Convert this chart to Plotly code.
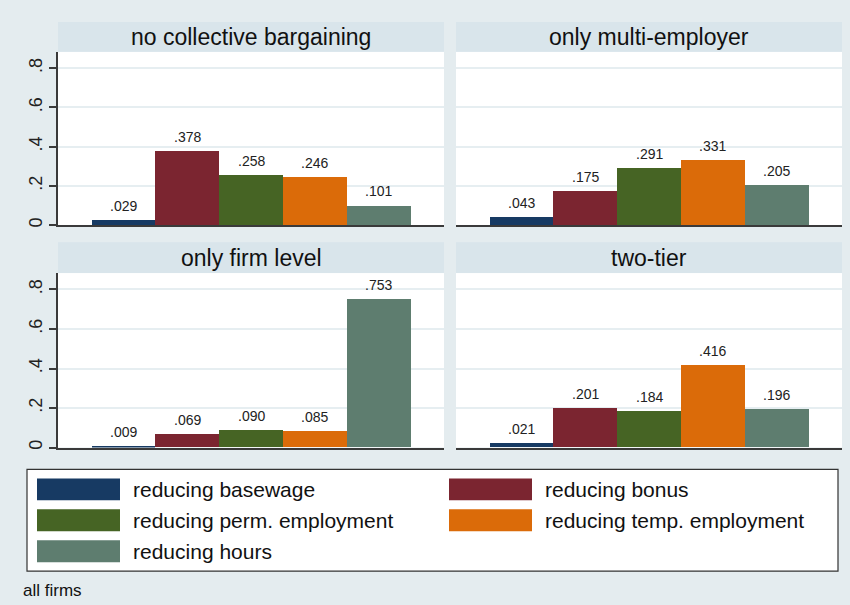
import plotly.graph_objects as go

panels = ["no collective bargaining", "only multi-employer", "only firm level", "two-tier"]
series = ["reducing basewage", "reducing bonus", "reducing perm. employment",
          "reducing temp. employment", "reducing hours"]
colors = ["#173A63", "#7B2530", "#466424", "#DB6B09", "#5E7D6F"]

v_nocb = [0.029, 0.378, 0.258, 0.246, 0.101]
v_multi = [0.043, 0.175, 0.291, 0.331, 0.205]
v_firm = [0.009, 0.069, 0.090, 0.085, 0.753]
v_two = [0.021, 0.201, 0.184, 0.416, 0.196]
values = [v_nocb, v_multi, v_firm, v_two]

ytick_vals = [0, 0.2, 0.4, 0.6, 0.8]
ytick_text = ["0", ".2", ".4", ".6", ".8"]
note = "all firms"

W, H = 850, 605
def px(x): return x / W
def py(y): return 1 - y / H

BG = "#E4ECEF"
STRIP = "#D9E5EB"
GRID = "#E6EEF1"
AX = "#3A3A3A"
FONT = "Liberation Sans, Arial, sans-serif"

cols = [(58, 444), (456, 842)]
rows = [(52, 226, 22), (274, 449, 243)]

fig = go.Figure()
layout = dict(width=W, height=H, margin=dict(l=0, r=0, t=0, b=0),
              paper_bgcolor=BG, plot_bgcolor="white", showlegend=False,
              barmode="overlay", bargap=0, font=dict(family=FONT, color="#111"))
shapes = []
annotations = []

for p, name in enumerate(panels):
    r, c = divmod(p, 2)
    n = p + 1
    xa = "x" if n == 1 else f"x{n}"
    ya = "y" if n == 1 else f"y{n}"
    xl, xr = cols[c]
    yt, yb, st = rows[r]
    layout["xaxis" if n == 1 else f"xaxis{n}"] = dict(
        domain=[px(xl), px(xr)], range=[-1.025, 5.025], anchor=ya,
        showgrid=False, zeroline=False, showticklabels=False, ticks="",
        showline=True, linecolor=AX, linewidth=1.5, fixedrange=True)
    layout["yaxis" if n == 1 else f"yaxis{n}"] = dict(
        domain=[py(yb), py(yt)], range=[0, 0.883], anchor=xa,
        tickvals=ytick_vals, ticktext=ytick_text, tickangle=-90,
        showticklabels=(c == 0), ticks="outside" if c == 0 else "",
        ticklen=7, tickcolor=AX, tickwidth=1.5,
        showline=(c == 0), linecolor=AX, linewidth=1.5,
        showgrid=True, gridcolor=GRID, gridwidth=1.5, zeroline=False,
        tickfont=dict(size=18, color="#222"), fixedrange=True)
    for i, s in enumerate(series):
        v = values[p][i]
        fig.add_trace(go.Bar(x=[i], y=[v], width=1, name=s,
                             marker=dict(color=colors[i], line=dict(width=0)),
                             xaxis=xa, yaxis=ya, hoverinfo="skip"))
        annotations.append(dict(x=i, y=v, xref=xa, yref=ya, text=f"{v:.3f}".lstrip("0"),
                                showarrow=False, yanchor="bottom", yshift=4,
                                font=dict(size=14, color="#222")))
    shapes.append(dict(type="rect", xref="paper", yref="paper",
                       x0=px(xl), x1=px(xr), y0=py(yt), y1=py(st),
                       fillcolor=STRIP, line=dict(width=0), layer="below"))
    annotations.append(dict(x=px((xl + xr) / 2), y=py((st + yt) / 2), xref="paper", yref="paper",
                            text=name, showarrow=False, xanchor="center", yanchor="middle",
                            font=dict(size=23, color="#111")))

shapes.append(dict(type="rect", xref="paper", yref="paper",
                   x0=px(27), x1=px(838), y0=py(573), y1=py(471),
                   fillcolor="white", line=dict(color="#333", width=1.2)))
leg_pos = [(37, 491), (449, 491), (37, 522), (449, 522), (37, 553)]
for i, s in enumerate(series):
    lx, ly = leg_pos[i]
    shapes.append(dict(type="rect", xref="paper", yref="paper",
                       x0=px(lx), x1=px(lx + 83), y0=py(ly + 11), y1=py(ly - 11),
                       fillcolor=colors[i], line=dict(width=0)))
    annotations.append(dict(x=px(lx + 94), y=py(ly), xref="paper", yref="paper",
                            text=s, showarrow=False, xanchor="left", yanchor="middle",
                            font=dict(size=21, color="#111")))

annotations.append(dict(x=px(21), y=py(592), xref="paper", yref="paper", text=note,
                        showarrow=False, xanchor="left", yanchor="middle",
                        font=dict(size=17, color="#111")))

layout["shapes"] = shapes
layout["annotations"] = annotations
fig.update_layout(**layout)
fig.write_html("out.html", config={"displayModeBar": False},
               post_script="document.body.style.margin='0';")
